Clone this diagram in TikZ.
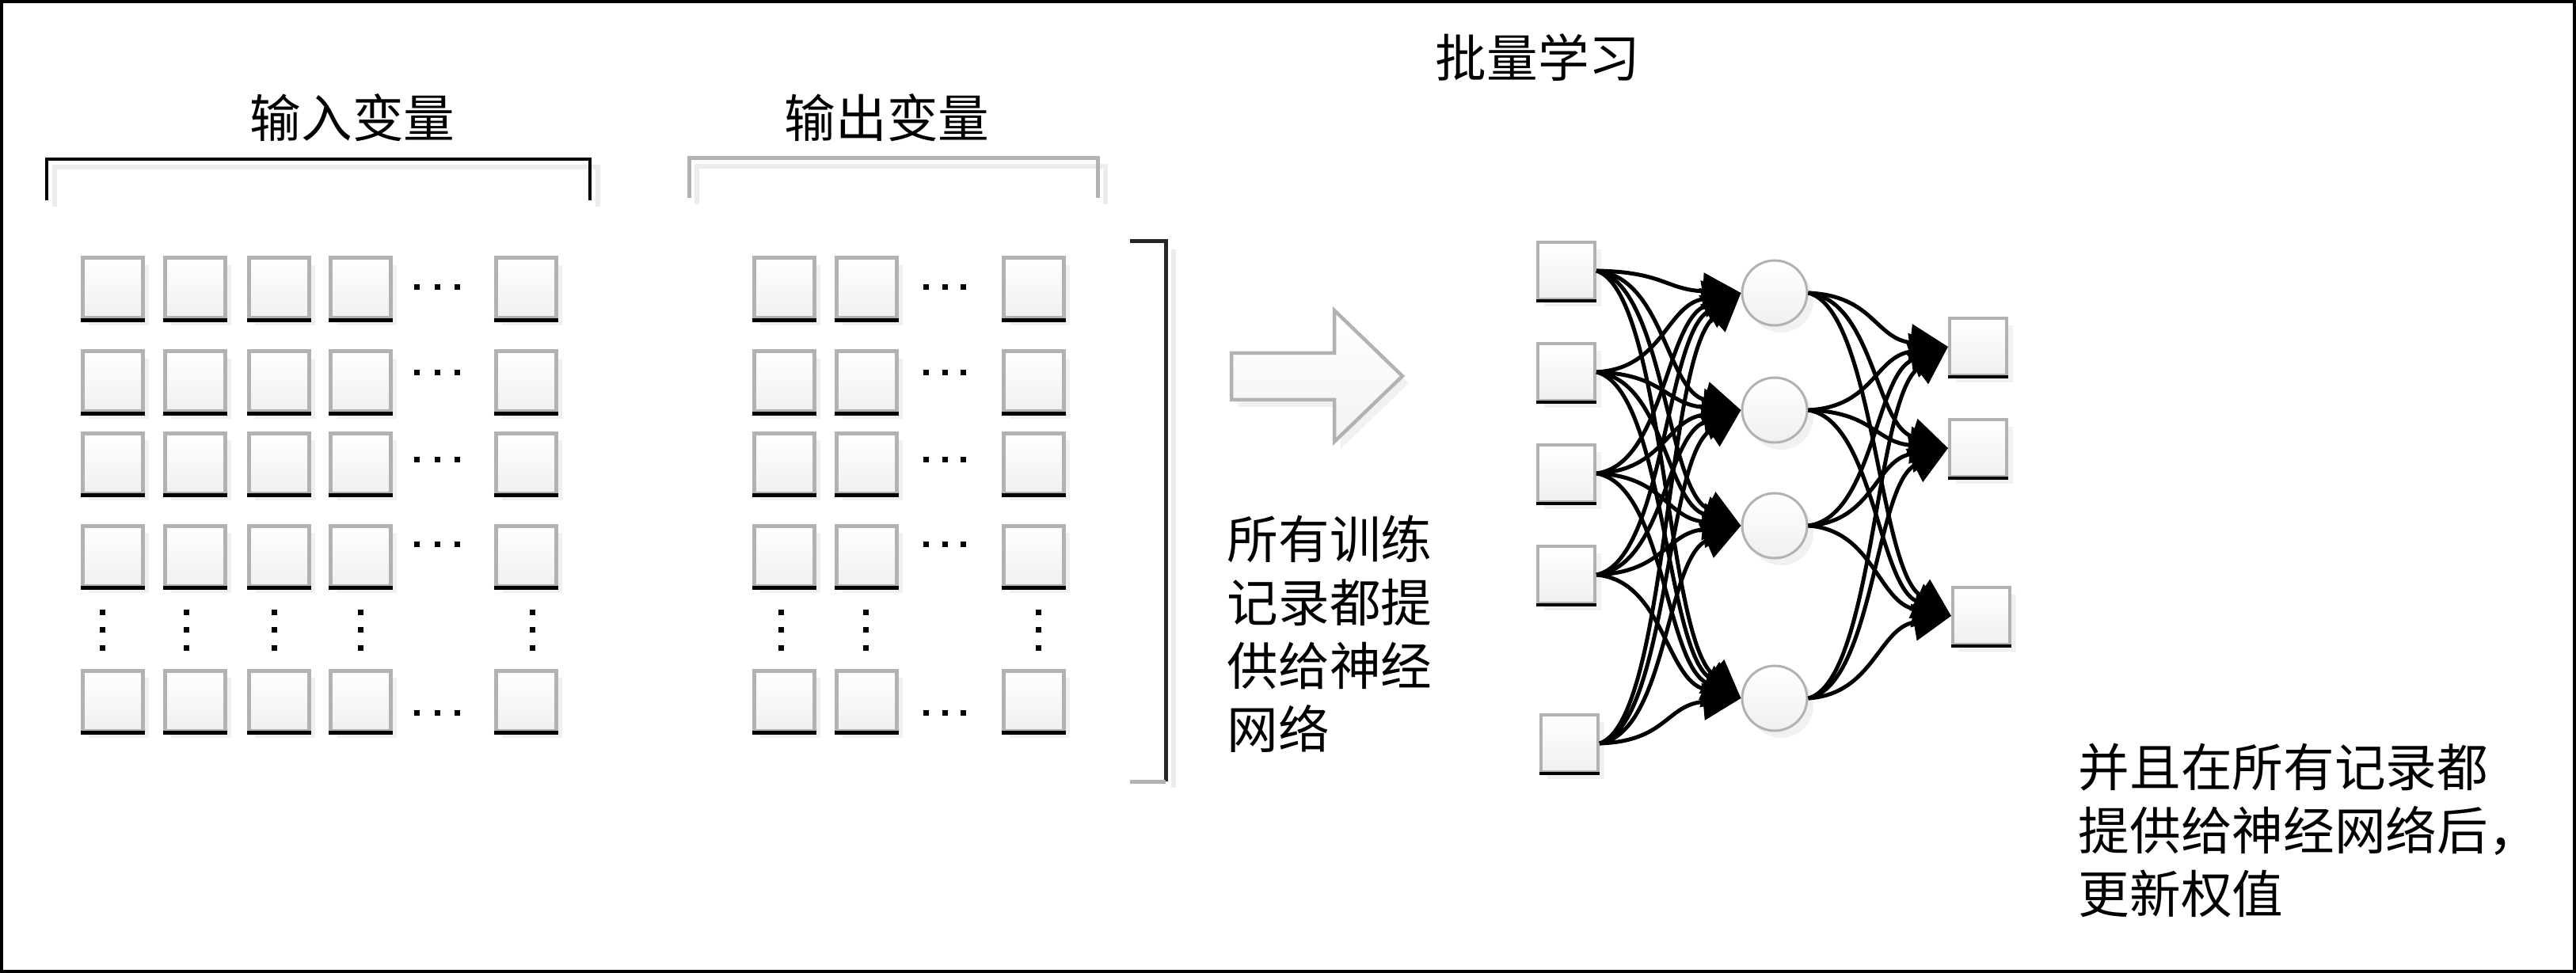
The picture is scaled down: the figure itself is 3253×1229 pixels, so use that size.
\documentclass[tikz,border=0pt]{standalone}
\usepackage{fontspec}
\newfontfamily\cjk{Noto Sans CJK SC}
\usetikzlibrary{arrows.meta,shadows}
\newcommand\mkcell[4]{%
  \node[#4] (#1) at (#2,#3) {};
  \draw[cellbot] (#1.south west) -- (#1.south east);}
\begin{document}
\begin{tikzpicture}[x=0.1mm,y=-0.1mm,
  shad/.style={drop shadow={shadow xshift=0.8mm,shadow yshift=-0.9mm,fill=gray!22}},
  cellbox/.style={rectangle,inner sep=0pt,minimum size=7.6mm,draw=gray!60,line width=0.5mm,
    top color=white,bottom color=gray!12,shad},
  netbox/.style={cellbox,minimum size=7.2mm,line width=0.4mm},
  cellbot/.style={black,line width=0.45mm},
  hid/.style={circle,inner sep=0pt,minimum size=8.2mm,draw=gray!60,line width=0.3mm,
    top color=white,bottom color=gray!12,shad},
  edge/.style={line width=0.5mm,-{Triangle[length=4.8mm,width=4.6mm]}},
  lbl/.style={font=\cjk\fontsize{18.4pt}{22.76pt}\selectfont,inner sep=0pt},
  brshadow/.style={gray!15,line width=0.6mm}
]
\useasboundingbox (0,0) rectangle (3253,1229);
\draw[line width=0.4mm] (2,2) rectangle (3251,1227);

% titles
\node[lbl] (title) at (1942,73) {批量学习};
\node[lbl] (tin) at (445,149) {输入变量};
\node[lbl] (tout) at (1120,149) {输出变量};

% brackets
\draw[brshadow] (69,261) -- (69,211) -- (755,211) -- (755,261);
\draw[black,line width=0.35mm] (59,253) -- (59,201) -- (745,201) -- (745,253);
\draw[brshadow] (880,258) -- (880,210) -- (1396,210) -- (1396,258);
\draw[gray!60,line width=0.5mm] (870,250) -- (870,200) -- (1386,200) -- (1386,250);
\draw[brshadow] (1482,315) -- (1482,995);
\draw[gray!30!black,line width=0.5mm] (1427,305) -- (1472,305) -- (1472,987);
\draw[gray!60,line width=0.5mm] (1472,987) -- (1427,987);

% grids
\foreach \y [count=\r] in {364,482,585,702,885}{
  \foreach \x [count=\c] in {142,246,352,455,664}{\mkcell{gi\r\c}{\x}{\y}{cellbox}}
  \foreach \x [count=\c] in {990,1094,1305}{\mkcell{go\r\c}{\x}{\y}{cellbox}}
}
% horizontal dots
\foreach \y in {363,471,580,687,900}{
  \foreach \x in {526,552,577,1169,1193,1216}{\fill (\x-3.5,\y-3.5) rectangle (\x+3.5,\y+3.5);}
}
% vertical dots
\foreach \x in {129,235,346,455,672,986,1093,1311}{
  \foreach \y in {773,795,818}{\fill (\x-3.5,\y-3.5) rectangle (\x+3.5,\y+3.5);}
}

% block arrow
\path[draw=gray!60,line width=0.45mm,top color=white,bottom color=gray!10,shad]
  (1555,446) -- (1685,446) -- (1685,392) -- (1771,475) -- (1685,558) -- (1685,505) -- (1555,505) -- cycle;

% middle text
\node[lbl,anchor=north west,align=left] (tmid) at (1549,650) {所有训练\\记录都提\\供给神经\\网络};

% network nodes
\foreach \y [count=\i] in {342,470,598,726}{\mkcell{ni\i}{1978}{\y}{netbox}}
\mkcell{ni5}{1982}{939}{netbox}
\foreach \y [count=\j] in {370,518,664,882}{\node[hid] (nh\j) at (2241,\y) {};}
\mkcell{no1}{2498}{438}{netbox}
\mkcell{no2}{2498}{566}{netbox}
\mkcell{no3}{2502}{778}{netbox}

% network edges
\foreach \sy [count=\i] in {342,470,598,726,939}{
  \foreach \ty [count=\j] in {370,518,664,882}{
    \pgfmathsetmacro\ca{0.05*(\ty-\sy)}
    \pgfmathsetmacro\cb{-0.15*(\ty-\sy)}
    \draw[edge] (ni\i.east) .. controls +(85,\ca) and +(-95,\cb) .. (nh\j.west);
  }
}
\foreach \sy [count=\i] in {370,518,664,882}{
  \foreach \ty [count=\j] in {438,566,778}{
    \pgfmathsetmacro\ca{0.05*(\ty-\sy)}
    \pgfmathsetmacro\cb{-0.15*(\ty-\sy)}
    \draw[edge] (nh\i.east) .. controls +(82,\ca) and +(-92,\cb) .. (no\j.west);
  }
}

% right text
\node[lbl,anchor=north west,align=left] (tright) at (2624,938) {并且在所有记录都\\提供给神经网络后，\\更新权值};
\end{tikzpicture}
\end{document}
